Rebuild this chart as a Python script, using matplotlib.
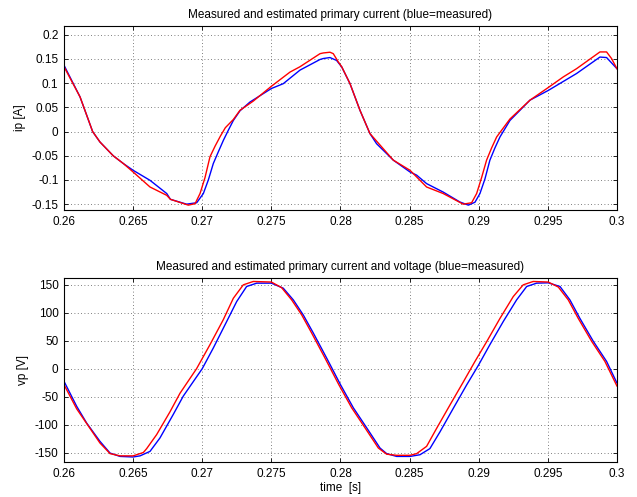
import matplotlib
matplotlib.use('Agg')
import matplotlib.pyplot as plt
from matplotlib.ticker import FuncFormatter

plt.rcParams['font.family'] = ['Liberation Sans', 'DejaVu Sans']
plt.rcParams['axes.unicode_minus'] = False

# primary current, measured (blue)
t_ip_meas = [0.26, 0.26116, 0.26207, 0.2626, 0.26356, 0.26429, 0.265, 0.26622,
             0.26743, 0.2677, 0.26887, 0.2696, 0.27008, 0.27044, 0.2708, 0.27116,
             0.27153, 0.27189, 0.27225, 0.27273, 0.27345, 0.275, 0.27586, 0.27707,
             0.27852, 0.27876, 0.27924, 0.27972, 0.28009, 0.28069, 0.28141,
             0.28213, 0.28261, 0.28382, 0.28503, 0.28551, 0.28623, 0.28743,
             0.28864, 0.28925, 0.28973, 0.29009, 0.29045, 0.29081, 0.29117,
             0.29154, 0.29226, 0.29371, 0.29503, 0.29708, 0.29877, 0.29925, 0.3]
ip_meas = [0.137, 0.0716, 0.0, -0.0215, -0.05, -0.066, -0.08, -0.1007,
           -0.128, -0.14, -0.15, -0.147, -0.128, -0.10, -0.066, -0.042,
           -0.018, 0.003, 0.023, 0.043, 0.061, 0.089, 0.099, 0.127,
           0.149, 0.151, 0.153, 0.147, 0.1336, 0.099, 0.044,
           -0.004, -0.025, -0.059, -0.0835, -0.09, -0.1075, -0.125,
           -0.1455, -0.152, -0.146, -0.128, -0.098, -0.059, -0.034,
           -0.011, 0.023, 0.065, 0.085, 0.12, 0.154, 0.153, 0.13]

# primary current, estimated (red)
t_ip_est = [0.26, 0.26116, 0.26207, 0.2626, 0.26356, 0.26429, 0.265, 0.26622,
            0.26743, 0.2677, 0.26899, 0.26948, 0.26984, 0.2702, 0.27056, 0.27093,
            0.2713, 0.27167, 0.27225, 0.27273, 0.27369, 0.275, 0.27635, 0.27707,
            0.27852, 0.27876, 0.27924, 0.27948, 0.27984, 0.28009, 0.28069,
            0.28141, 0.28213, 0.28382, 0.28503, 0.28623, 0.28743, 0.28888,
            0.28949, 0.28985, 0.29021, 0.29057, 0.29093, 0.2913, 0.29226,
            0.29371, 0.29503, 0.29612, 0.29708, 0.29877, 0.29925, 0.29961, 0.3]
ip_est = [0.134, 0.0716, 0.0, -0.0215, -0.05, -0.066, -0.0835, -0.1145,
          -0.1317, -0.14, -0.152, -0.149, -0.128, -0.095, -0.052, -0.03,
          -0.01, 0.008, 0.025, 0.044, 0.063, 0.0936, 0.123, 0.134,
          0.161, 0.1625, 0.164, 0.161, 0.144, 0.134, 0.099,
          0.044, -0.004, -0.059, -0.08, -0.1145, -0.128, -0.15,
          -0.147, -0.128, -0.095, -0.059, -0.034, -0.011, 0.026,
          0.065, 0.091, 0.113, 0.13, 0.1646, 0.1646, 0.151, 0.13]

# primary voltage, measured (blue)
t_vp_meas = [0.26, 0.26092, 0.26164, 0.2626, 0.26333, 0.26405, 0.265, 0.2655,
             0.26622, 0.26694, 0.2679, 0.26863, 0.27, 0.2708, 0.27177, 0.27249,
             0.27321, 0.27394, 0.275, 0.27586, 0.27659, 0.27731, 0.27803, 0.279,
             0.28, 0.28093, 0.2819, 0.28286, 0.28334, 0.28406, 0.28503, 0.28575,
             0.28647, 0.2872, 0.28816, 0.28913, 0.29, 0.29081, 0.29178, 0.29274,
             0.29347, 0.29419, 0.29503, 0.29588, 0.2966, 0.29732, 0.29829,
             0.29925, 0.3]
vp_meas = [-22.7, -67.5, -97.4, -130, -151, -157, -158, -156,
           -148, -124, -82, -49, 0, 37, 84.5, 120,
           147, 153, 153, 144, 123, 96, 64, 19,
           -28.6, -70, -106, -142, -152, -157, -157, -154,
           -143, -113, -71, -29, 7, 43, 84.5, 123,
           147, 153, 153.6, 147, 123, 90, 49,
           13, -25.6]

# primary voltage, estimated (red)
t_vp_est = [0.26, 0.26092, 0.2626, 0.26333, 0.26405, 0.265, 0.26574, 0.26598,
            0.2667, 0.26767, 0.26839, 0.26959, 0.27056, 0.27152, 0.27225,
            0.27297, 0.27369, 0.275, 0.27574, 0.27647, 0.2772, 0.27791, 0.27888,
            0.27988, 0.28081, 0.28178, 0.28274, 0.28334, 0.28406, 0.28503,
            0.28551, 0.28623, 0.28695, 0.28792, 0.28888, 0.28973, 0.29057,
            0.29154, 0.2925, 0.29322, 0.29394, 0.29503, 0.29576, 0.29648,
            0.2972, 0.29817, 0.29913, 0.3]
vp_est = [-28.7, -72, -133, -152, -156, -156, -150, -143,
          -118, -77, -44, 0, 43, 87.5, 126,
          150, 156, 155, 145, 123, 96, 64, 19,
          -28.6, -70, -106, -142, -153, -155, -155,
          -152, -139, -107, -65, -24, 13, 48,
          90, 129, 150, 156, 155, 146, 123,
          90, 49, 13, -31]

x_ticks = [0.26, 0.265, 0.27, 0.275, 0.28, 0.285, 0.29, 0.295, 0.3]
ip_ticks = [-0.15, -0.1, -0.05, 0, 0.05, 0.1, 0.15, 0.2]
vp_ticks = [-150, -100, -50, 0, 50, 100, 150]

fig = plt.figure(figsize=(6.37, 4.97), dpi=100)
ax1 = fig.add_axes([0.1005, 0.5775, 0.868, 0.370])
ax2 = fig.add_axes([0.1005, 0.0704, 0.868, 0.370])

fmt = FuncFormatter(lambda v, p: '%g' % v)

ax1.plot(t_ip_meas, ip_meas, color='#0000ff', lw=1.0)
ax1.plot(t_ip_est, ip_est, color='#ff0000', lw=1.0)
ax1.set_ylim(-0.162, 0.218)
ax1.set_yticks(ip_ticks)
ax1.set_ylabel('ip [A]', fontsize=8.5, labelpad=4)
ax1.set_title('Measured and estimated primary current (blue=measured)', fontsize=8.5, pad=6)

ax2.plot(t_vp_meas, vp_meas, color='#0000ff', lw=1.0)
ax2.plot(t_vp_est, vp_est, color='#ff0000', lw=1.0)
ax2.set_ylim(-167, 162)
ax2.set_yticks(vp_ticks)
ax2.set_ylabel('vp [V]', fontsize=8.5, labelpad=4)
ax2.set_xlabel('time  [s]', fontsize=8.5, labelpad=2)
ax2.set_title('Measured and estimated primary current and voltage (blue=measured)', fontsize=8.5, pad=6)

for ax in (ax1, ax2):
    ax.set_xlim(0.26, 0.3)
    ax.set_xticks(x_ticks)
    ax.xaxis.set_major_formatter(fmt)
    ax.yaxis.set_major_formatter(fmt)
    ax.grid(True, linestyle=(0, (1, 3)), color='#555555', lw=0.6)
    ax.tick_params(direction='in', top=True, right=True, labelsize=8.5, length=3, width=0.6, pad=4)
    for s in ax.spines.values():
        s.set_linewidth(0.8)

fig.savefig('out.png', dpi=100)
